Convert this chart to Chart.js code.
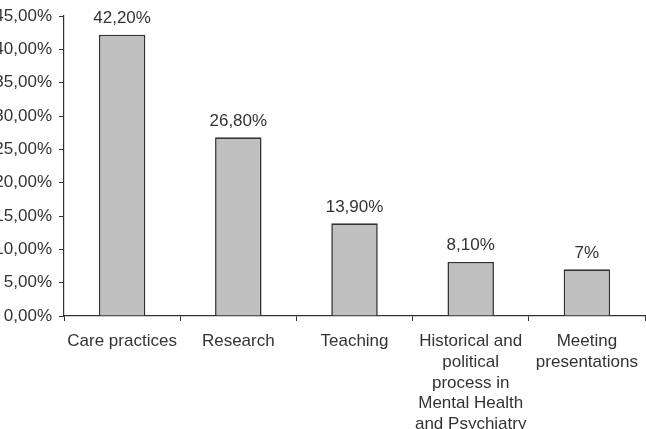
<!DOCTYPE html>
<html>
<head>
<meta charset="utf-8">
<script src="https://cdn.jsdelivr.net/npm/chart.js@4/dist/chart.umd.min.js"></script>
<style>
html,body{margin:0;padding:0;background:#fff;overflow:hidden;}
#wrap{position:absolute;left:0;top:0;width:646px;height:429px;}
</style>
</head>
<body>
<div id="wrap"><canvas id="c" width="646" height="429"></canvas></div>
<script>
const categories = [
  "Care practices",
  "Research",
  "Teaching",
  ["Historical and", "political", "process in", "Mental Health", "and Psychiatry"],
  ["Meeting", "presentations"]
];
const values = [42.2, 26.8, 13.9, 8.1, 7.0];
const valueLabels = ["42,20%", "26,80%", "13,90%", "8,10%", "7%"];
const yTicks = [0, 5, 10, 15, 20, 25, 30, 35, 40, 45];

const FONT = "Liberation Sans, Arial, sans-serif";
const TEXT = "#333333";

const valueLabelPlugin = {
  id: "valueLabels",
  afterDatasetsDraw(chart) {
    const ctx = chart.ctx;
    const meta = chart.getDatasetMeta(0);
    ctx.save();
    ctx.font = "17px " + FONT;
    ctx.fillStyle = TEXT;
    ctx.textAlign = "center";
    ctx.textBaseline = "bottom";
    meta.data.forEach((bar, i) => {
      ctx.fillText(valueLabels[i], bar.x, bar.y - 8);
    });
    ctx.restore();
  }
};

new Chart(document.getElementById("c"), {
  type: "bar",
  data: {
    labels: categories,
    datasets: [{
      data: values,
      backgroundColor: "#c0c0c0",
      borderColor: "#333333",
      borderWidth: 1.6,
      barPercentage: 0.40,
      categoryPercentage: 1.0
    }]
  },
  options: {
    responsive: false,
    animation: false,
    devicePixelRatio: 1,
    layout: { padding: { top: 16, right: 1, left: 0, bottom: 0 } },
    plugins: { legend: { display: false }, tooltip: { enabled: false } },
    scales: {
      x: {
        grid: { display: true, drawOnChartArea: false, offset: true, tickLength: 5, color: "#333333", lineWidth: 1 },
        border: { display: true, color: "#333333", width: 1.2 },
        ticks: { color: TEXT, font: { family: FONT, size: 17, lineHeight: 1.22 }, maxRotation: 0, autoSkip: false, padding: 10 },
        afterFit(scale) { scale.height = 113; scale.paddingLeft = 0; scale.paddingRight = 0; }
      },
      y: {
        min: 0,
        max: 45,
        afterBuildTicks(scale) { scale.ticks = yTicks.map(v => ({ value: v })); },
        grid: { display: true, drawOnChartArea: false, tickLength: 5, color: "#333333", lineWidth: 1 },
        border: { display: true, color: "#333333", width: 1.2 },
        ticks: {
          color: TEXT,
          font: { family: FONT, size: 17 },
          padding: 7,
          callback: (v) => v.toFixed(2).replace(".", ",") + "%"
        },
        afterFit(scale) { scale.width = 64; scale.paddingTop = 0; scale.paddingBottom = 0; }
      }
    }
  },
  plugins: [valueLabelPlugin]
});
</script>
</body>
</html>
